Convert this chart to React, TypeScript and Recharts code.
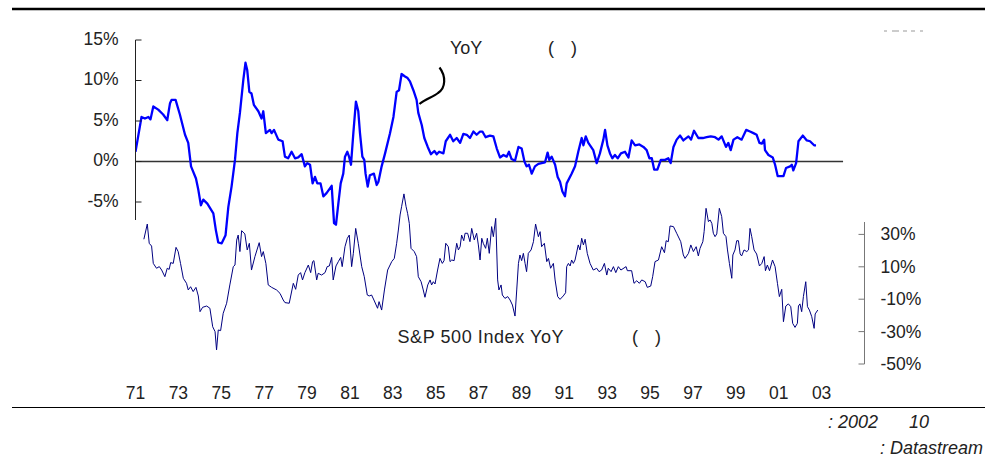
import { Line, LineChart, ReferenceLine, XAxis, YAxis } from 'recharts'

document.body.style.margin = '0'

const FONT = '"Liberation Sans", Arial, sans-serif'

// x axis: one label every two years, shown as two digits
const yearTicks = [
  1971, 1973, 1975, 1977, 1979, 1981, 1983, 1985, 1987, 1989, 1991, 1993, 1995, 1997, 1999, 2001,
  2003,
]
const cpiTicks = [15, 10, 5, 0, -5]
const spxTicks = [30, 10, -10, -30, -50]

// upper series, left axis (%)
const cpiYears = [
  1971.0, 1971.28, 1971.44, 1971.6, 1971.7, 1971.83, 1972.06, 1972.29, 1972.48, 1972.61, 1972.68,
  1972.87, 1973.07, 1973.31, 1973.46, 1973.59, 1973.82, 1973.93, 1974.05, 1974.16, 1974.35, 1974.63,
  1974.75, 1974.86, 1975.02, 1975.2, 1975.33, 1975.48, 1975.64, 1975.75, 1975.87, 1976.03, 1976.13,
  1976.21, 1976.31, 1976.41, 1976.52, 1976.73, 1976.88, 1976.96, 1977.08, 1977.27, 1977.35, 1977.46,
  1977.66, 1977.86, 1977.97, 1978.12, 1978.28, 1978.44, 1978.59, 1978.75, 1978.9, 1979.01, 1979.14,
  1979.26, 1979.37, 1979.48, 1979.63, 1979.76, 1979.91, 1980.15, 1980.26, 1980.35, 1980.46, 1980.57,
  1980.69, 1980.77, 1980.88, 1980.96, 1981.05, 1981.16, 1981.28, 1981.39, 1981.47, 1981.58, 1981.67,
  1981.73, 1981.83, 1981.93, 1982.12, 1982.25, 1982.33, 1982.48, 1982.64, 1982.87, 1983.03, 1983.18,
  1983.29, 1983.41, 1983.57, 1983.69, 1983.8, 1983.96, 1984.11, 1984.19, 1984.35, 1984.47, 1984.63,
  1984.78, 1984.94, 1985.05, 1985.16, 1985.36, 1985.47, 1985.67, 1985.82, 1985.98, 1986.14, 1986.29,
  1986.45, 1986.6, 1986.76, 1986.91, 1987.07, 1987.18, 1987.33, 1987.53, 1987.69, 1987.85, 1988.0,
  1988.16, 1988.31, 1988.42, 1988.54, 1988.7, 1988.86, 1989.01, 1989.14, 1989.24, 1989.35, 1989.48,
  1989.63, 1989.79, 1989.94, 1990.1, 1990.22, 1990.3, 1990.41, 1990.57, 1990.69, 1990.8, 1990.91,
  1991.03, 1991.11, 1991.34, 1991.5, 1991.65, 1991.81, 1991.89, 1992.0, 1992.12, 1992.35, 1992.51,
  1992.66, 1992.82, 1992.9, 1993.01, 1993.13, 1993.24, 1993.36, 1993.49, 1993.64, 1993.83, 1993.99,
  1994.14, 1994.3, 1994.5, 1994.69, 1994.84, 1994.97, 1995.08, 1995.19, 1995.34, 1995.5, 1995.7,
  1995.85, 1995.96, 1996.09, 1996.24, 1996.4, 1996.55, 1996.79, 1996.91, 1997.05, 1997.25, 1997.46,
  1997.64, 1997.83, 1998.03, 1998.19, 1998.34, 1998.54, 1998.65, 1998.76, 1998.89, 1999.07, 1999.27,
  1999.48, 1999.66, 1999.82, 1999.97, 2000.1, 2000.21, 2000.32, 2000.36, 2000.52, 2000.72, 2000.83,
  2000.95, 2001.22, 2001.34, 2001.53, 2001.61, 2001.68, 2001.81, 2001.92, 2002.12, 2002.31, 2002.46,
  2002.65, 2002.74,
]
const cpiValues = [
  1.2, 5.5, 5.3, 5.5, 5.2, 6.8, 6.4, 5.8, 5.1, 7.2, 7.6, 7.6, 5.8, 3.3, 2.3, -0.6, -2.1, -3.5, -5.4,
  -4.7, -5.2, -6.4, -8.5, -10.0, -10.1, -9.1, -5.6, -3.1, 0.2, 3.5, 6.0, 10.1, 12.2, 11.3, 8.6, 8.4,
  7.0, 6.2, 5.3, 6.2, 3.5, 3.9, 3.5, 3.9, 2.7, 2.5, 0.6, 0.4, 1.2, 0.4, 0.5, 0.9, -0.6, -0.2, -0.4,
  -2.7, -1.9, -2.7, -2.7, -4.3, -3.9, -3.0, -7.6, -7.8, -5.2, -2.7, -1.5, 0.6, 1.2, 0.6, -0.4, 3.5,
  7.4, 6.2, 3.5, 0.6, 0.2, -1.5, -3.1, -1.7, -1.5, -2.9, -2.5, -0.6, 1.0, 3.5, 5.5, 8.6, 8.8, 10.8,
  10.5, 10.3, 9.9, 8.8, 7.6, 6.0, 4.5, 2.9, 1.8, 0.9, 1.3, 0.9, 1.2, 1.0, 2.5, 3.3, 2.5, 2.9, 2.3,
  3.4, 3.3, 2.9, 3.7, 3.3, 3.7, 3.7, 3.0, 3.2, 3.1, 1.6, 0.5, 0.8, 0.6, 1.2, 0.3, 0.1, 1.8, 1.6, 0.0,
  -0.6, -0.4, -1.5, -0.6, -0.3, -0.2, -0.1, 1.1, 0.2, 0.6, -0.4, -1.9, -2.5, -3.7, -4.3, -2.7, -1.5,
  -0.6, 1.2, 2.9, 2.0, 3.1, 2.3, 1.4, -0.2, 1.0, 2.7, 3.9, 2.0, 1.0, 0.4, 0.8, 0.4, 1.0, 1.2, 0.5,
  2.6, 2.0, 2.1, 1.8, 1.4, 0.4, 0.4, -1.0, -1.0, 0.2, 0.2, 0.4, -0.2, 1.8, 2.7, 3.2, 2.6, 3.1, 2.7,
  3.8, 2.9, 2.9, 3.0, 3.1, 3.0, 2.7, 3.1, 1.8, 2.3, 1.4, 2.7, 3.0, 2.7, 3.9, 3.7, 3.5, 3.3, 2.3, 2.2,
  2.7, 1.4, 0.8, 0.5, -0.4, -1.8, -1.8, -0.8, -0.6, -0.4, -1.1, -0.2, 2.5, 3.2, 2.6, 2.5, 2.0, 2.0,
]

// lower series, right axis (%)
const spxYears = [
  1971.39, 1971.55, 1971.64, 1971.75, 1971.83, 1971.98, 1972.11, 1972.22, 1972.37, 1972.48, 1972.57,
  1972.64, 1972.76, 1972.89, 1972.99, 1973.1, 1973.23, 1973.38, 1973.46, 1973.57, 1973.69, 1973.82,
  1973.93, 1974.01, 1974.13, 1974.32, 1974.47, 1974.6, 1974.71, 1974.78, 1974.86, 1974.97, 1975.09,
  1975.25, 1975.4, 1975.56, 1975.64, 1975.72, 1975.79, 1975.87, 1975.95, 1976.1, 1976.21, 1976.31,
  1976.41, 1976.57, 1976.77, 1976.88, 1976.96, 1977.08, 1977.19, 1977.35, 1977.58, 1977.74, 1977.89,
  1977.97, 1978.17, 1978.36, 1978.47, 1978.59, 1978.7, 1978.79, 1978.9, 1979.06, 1979.17, 1979.26,
  1979.32, 1979.45, 1979.52, 1979.68, 1979.84, 1979.94, 1980.04, 1980.15, 1980.22, 1980.35, 1980.46,
  1980.57, 1980.64, 1980.77, 1980.88, 1980.97, 1981.08, 1981.16, 1981.27, 1981.39, 1981.55, 1981.67,
  1981.81, 1981.9, 1982.01, 1982.12, 1982.29, 1982.36, 1982.48, 1982.61, 1982.76, 1982.95, 1983.07,
  1983.18, 1983.26, 1983.34, 1983.41, 1983.52, 1983.62, 1983.69, 1983.77, 1983.85, 1984.0, 1984.11,
  1984.19, 1984.32, 1984.42, 1984.5, 1984.63, 1984.74, 1984.81, 1984.89, 1984.97, 1985.09, 1985.2,
  1985.31, 1985.39, 1985.47, 1985.59, 1985.67, 1985.75, 1985.86, 1985.98, 1986.06, 1986.14, 1986.21,
  1986.31, 1986.37, 1986.49, 1986.6, 1986.68, 1986.8, 1986.91, 1986.99, 1987.07, 1987.15, 1987.22,
  1987.33, 1987.41, 1987.5, 1987.61, 1987.69, 1987.8, 1987.89, 1987.95, 1988.05, 1988.11, 1988.23,
  1988.36, 1988.47, 1988.58, 1988.7, 1988.78, 1988.86, 1988.93, 1989.01, 1989.09, 1989.17, 1989.24,
  1989.32, 1989.45, 1989.56, 1989.66, 1989.79, 1989.87, 1989.94, 1990.07, 1990.18, 1990.26, 1990.36,
  1990.49, 1990.57, 1990.69, 1990.8, 1990.95, 1991.06, 1991.11, 1991.19, 1991.27, 1991.34, 1991.42,
  1991.5, 1991.65, 1991.73, 1991.81, 1991.89, 1991.97, 1992.07, 1992.2, 1992.35, 1992.51, 1992.62,
  1992.74, 1992.87, 1992.98, 1993.05, 1993.18, 1993.29, 1993.4, 1993.52, 1993.64, 1993.88, 1993.94,
  1994.14, 1994.25, 1994.38, 1994.5, 1994.61, 1994.77, 1994.87, 1995.03, 1995.12, 1995.23, 1995.39,
  1995.54, 1995.67, 1995.75, 1995.85, 1995.93, 1996.09, 1996.24, 1996.43, 1996.55, 1996.63, 1996.79,
  1996.9, 1997.02, 1997.15, 1997.25, 1997.33, 1997.46, 1997.52, 1997.61, 1997.72, 1997.8, 1997.88,
  1997.95, 1998.03, 1998.11, 1998.23, 1998.34, 1998.42, 1998.54, 1998.61, 1998.7, 1998.81, 1998.86,
  1998.96, 1999.04, 1999.12, 1999.2, 1999.27, 1999.38, 1999.51, 1999.59, 1999.66, 1999.74, 1999.85,
  1999.97, 2000.1, 2000.21, 2000.32, 2000.38, 2000.47, 2000.57, 2000.71, 2000.83, 2000.94, 2001.03,
  2001.14, 2001.22, 2001.33, 2001.45, 2001.56, 2001.65, 2001.76, 2001.87, 2001.92, 2001.99, 2002.07,
  2002.15, 2002.26, 2002.34, 2002.43, 2002.54, 2002.65, 2002.7, 2002.82,
]
const spxValues = [
  27.0, 36.4, 24.5, 22.8, 12.1, 9.1, 10.1, 8.0, 3.9, 9.1, 8.4, 12.6, 12.1, 22.0, 19.4, 12.1, 2.9,
  -0.2, -4.3, -2.3, -5.3, -2.7, -8.0, -17.7, -15.0, -14.2, -15.6, -27.0, -30.0, -41.3, -29.0, -29.4,
  -18.7, -12.5, -1.2, 10.1, 11.1, 26.5, 29.6, 19.4, 32.3, 30.3, 20.4, 24.5, 8.0, 16.3, 24.9, 16.3,
  19.4, 12.1, -1.2, -2.7, -4.3, -6.4, -10.5, -12.1, -12.5, -0.2, -3.9, 4.9, 6.4, 1.9, 6.4, 11.1, 6.4,
  13.2, 13.8, 1.9, 6.0, 4.9, 6.4, 10.1, 10.5, 15.8, 1.9, 10.5, 13.2, 15.8, 10.1, 22.4, 27.6, 29.6,
  10.1, 18.3, 33.7, 24.5, 10.1, 3.9, -7.4, -8.0, -7.4, -10.5, -15.6, -11.5, -16.7, -4.3, 8.0, 13.2,
  15.2, 24.5, 32.7, 42.0, 47.1, 55.0, 47.1, 43.0, 36.8, 21.4, 19.4, 16.3, 3.9, 0.8, -4.3, -8.8, -1.2,
  1.9, -1.2, 0.8, -0.6, 8.0, 15.2, 12.1, 13.8, 24.5, 22.4, 13.2, 14.2, 13.8, 24.5, 20.4, 22.4, 29.6,
  26.1, 30.7, 30.7, 25.5, 33.7, 26.6, 30.7, 23.5, 14.2, 27.6, 24.5, 21.4, 27.6, 18.3, 34.8, 28.6, 39.9,
  1.9, -4.3, -1.2, -7.4, -9.5, -8.4, -10.5, -13.6, -20.4, -4.3, 12.1, 17.3, 13.8, 18.3, 12.1, 7.0,
  18.3, 20.4, 25.5, 36.4, 28.6, 31.7, 22.4, 24.5, 13.2, 15.2, 9.1, 12.1, 1.9, -8.4, -10.1, -8.0, -6.0,
  10.1, 12.1, 10.5, 14.2, 12.1, 14.2, 23.5, 20.4, 27.6, 23.5, 27.0, 18.3, 12.1, 8.0, 9.1, 7.0, 8.0,
  12.1, 4.9, 9.1, 7.0, 10.1, 6.4, 10.1, 8.0, 10.1, 7.6, 7.6, -0.2, 1.4, -0.2, 1.9, 0.8, -2.7, -1.9,
  3.9, 13.2, 14.2, 22.4, 18.7, 26.1, 25.5, 35.2, 34.8, 30.7, 25.5, 17.3, 15.2, 18.3, 23.5, 19.4, 22.4,
  16.7, 21.4, 25.5, 31.7, 46.1, 37.9, 38.9, 36.8, 30.7, 28.6, 30.3, 46.1, 41.0, 30.7, 28.6, 20.4,
  12.1, 2.9, 17.3, 20.4, 26.1, 26.1, 17.9, 16.7, 20.4, 19.4, 20.4, 33.7, 28.6, 20.4, 17.9, 10.5, 12.1,
  16.3, 7.6, 11.1, 7.6, 14.2, 10.1, -0.2, -8.4, -3.9, -23.9, -14.2, -12.9, -14.6, -24.9, -27.4, -24.9,
  -14.2, -12.9, -17.7, -8.4, 0.8, -14.6, -16.7, -20.8, -28.0, -19.1, -16.7,
]

const cpiData = cpiYears.map((year, i) => ({ year, v: cpiValues[i] }))
const spxData = spxYears.map((year, i) => ({ year, v: spxValues[i] }))

const LeftTick = (props: any) => {
  const { x, y, payload } = props
  return (
    <g>
      <line x1={x} x2={x + 6} y1={y} y2={y} stroke='#222' />
      <text x={x - 17} y={y + 4.5} textAnchor='end' fontSize={17.5} fill='#222' fontFamily={FONT}>
        {payload.value}%
      </text>
    </g>
  )
}

const RightTick = (props: any) => {
  const { x, y, payload } = props
  return (
    <g>
      <line x1={x - 6} x2={x} y1={y} y2={y} stroke='#777' />
      <text x={x + 16} y={y + 6} textAnchor='start' fontSize={17.5} fill='#222' fontFamily={FONT}>
        {payload.value}%
      </text>
    </g>
  )
}

const YearTick = (props: any) => {
  const { x, y, payload } = props
  return (
    <text x={x} y={y + 35} textAnchor='middle' fontSize={17.5} fill='#222' fontFamily={FONT}>
      {String(payload.value % 100).padStart(2, '0')}
    </text>
  )
}

const label = { fontFamily: FONT, fontSize: 18, fill: '#222' }

export default function App() {
  return (
    <div style={{ position: 'relative', width: 999, height: 460, background: '#fff' }}>
      <LineChart width={999} height={460} margin={{ top: 40, right: 133.5, bottom: 95, left: 134.5 }}>
        <XAxis
          xAxisId='x'
          type='number'
          dataKey='year'
          domain={[1971, 2005]}
          ticks={yearTicks}
          height={1}
          axisLine={false}
          tickLine={false}
          tickSize={0}
          tickMargin={0}
          tick={YearTick}
          interval={0}
          allowDataOverflow
        />
        <YAxis
          yAxisId='l'
          orientation='left'
          width={1}
          domain={[-25, 15]}
          ticks={cpiTicks}
          interval={0}
          axisLine={{ stroke: '#222', strokeDasharray: '180 1000' }}
          tickLine={false}
          tickSize={0}
          tickMargin={0}
          tick={LeftTick}
          allowDataOverflow
        />
        <YAxis
          yAxisId='r'
          orientation='right'
          width={1}
          domain={[-50, 150]}
          ticks={spxTicks}
          interval={0}
          axisLine={{ stroke: '#777', strokeDasharray: '0 182 142 1000' }}
          tickLine={false}
          tickSize={0}
          tickMargin={0}
          tick={RightTick}
          allowDataOverflow
        />
        <ReferenceLine
          xAxisId='x'
          yAxisId='l'
          segment={[
            { x: 1971, y: 0 },
            { x: 2004, y: 0 },
          ]}
          stroke='#333'
          strokeWidth={1.3}
        />
        <Line
          xAxisId='x'
          yAxisId='r'
          data={spxData}
          dataKey='v'
          type='linear'
          stroke='#000080'
          strokeWidth={1}
          dot={false}
          isAnimationActive={false}
        />
        <Line
          xAxisId='x'
          yAxisId='l'
          data={cpiData}
          dataKey='v'
          type='linear'
          stroke='#0000ff'
          strokeWidth={2.3}
          strokeLinejoin='round'
          dot={false}
          isAnimationActive={false}
        />
      </LineChart>
      <svg
        width={999}
        height={460}
        style={{ position: 'absolute', left: 0, top: 0, pointerEvents: 'none' }}
      >
        <line x1={12} x2={985} y1={9} y2={9} stroke='#000' strokeWidth={2.5} />
        <line x1={12} x2={985} y1={407.5} y2={407.5} stroke='#000' strokeWidth={1.2} />
        <line
          x1={884}
          x2={923}
          y1={31}
          y2={31}
          stroke='#999'
          strokeDasharray='3 5 7 4 4 4 4 5 3'
        />
        <path
          d='M439.5,67.5 C446,76 446,88 438,93 C433,97 425,99 419.5,104'
          fill='none'
          stroke='#000'
          strokeWidth={2.2}
        />
        <text x={450} y={54} {...label}>
          YoY
        </text>
        <text x={548} y={54} {...label}>
          (
        </text>
        <text x={571} y={54} {...label}>
          )
        </text>
        <text x={397.5} y={343} {...label} textLength={166} lengthAdjust='spacing'>
          S&amp;P 500 Index YoY
        </text>
        <text x={632} y={343} {...label}>
          (
        </text>
        <text x={655} y={343} {...label}>
          )
        </text>
        <text x={828} y={428} {...label} fontStyle='italic'>
          : 2002
        </text>
        <text x={909} y={428} {...label} fontStyle='italic'>
          10
        </text>
        <text x={880} y={454} {...label} fontStyle='italic'>
          : Datastream
        </text>
      </svg>
    </div>
  )
}
